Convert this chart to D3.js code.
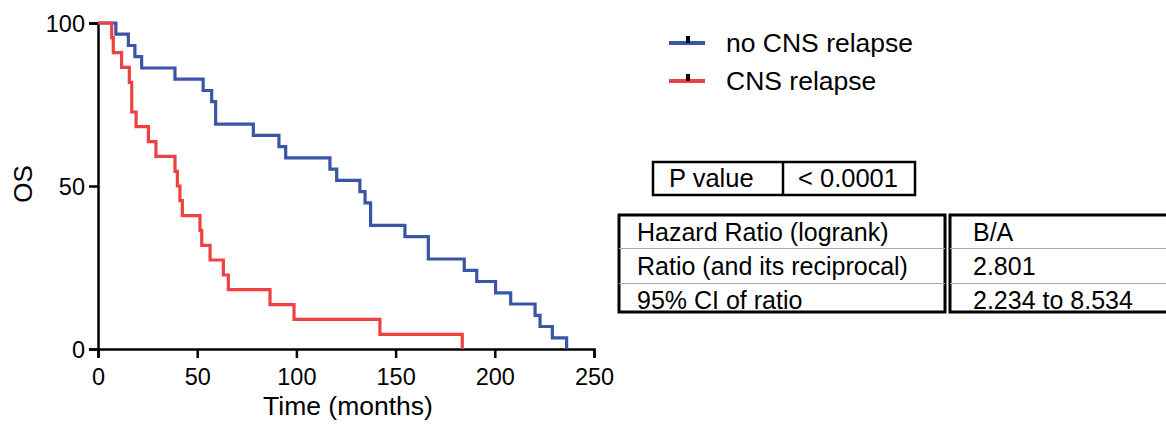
<!DOCTYPE html>
<html>
<head>
<meta charset="utf-8">
<script src="https://cdn.jsdelivr.net/npm/d3@7"></script>
<style>
  body { margin: 0; background: #fff; }
  svg { display: block; font-family: "Liberation Sans", Arial, sans-serif; }
</style>
</head>
<body>
<div id="chart"></div>
<script>
// survival curves (time in months, OS in %)
var noRelapseTimes = [0, 9, 15.3, 18.6, 22, 38.8, 53, 57.3, 59.3, 78.3, 91.2, 94.6, 116.9, 120.3, 132, 134.6, 137.4, 154.7, 166.5, 184.6, 190.9, 200.4, 208, 220.3, 222.8, 229, 236.2];
var noRelapseOS    = [100, 96.6, 93.1, 89.7, 86.2, 82.8, 79.3, 75.9, 69.0, 65.5, 62.1, 58.6, 55.2, 51.7, 48.3, 44.8, 37.9, 34.5, 27.6, 24.1, 20.7, 17.2, 13.8, 10.3, 6.9, 3.4, 0];

var relapseTimes = [0, 6.9, 7.7, 11.9, 15.8, 17, 19.2, 25.4, 29.2, 38.8, 40, 41.3, 42.5, 51.4, 52.3, 56.5, 63.2, 65.7, 86.7, 98.8, 142.1, 183.6];
var relapseOS    = [100, 95.5, 90.9, 86.4, 81.8, 72.7, 68.2, 63.6, 59.1, 54.5, 50, 45.5, 40.9, 36.4, 31.8, 27.3, 22.7, 18.2, 13.6, 9.1, 4.5, 0];

var seriesNames = ["no CNS relapse", "CNS relapse"];
var seriesColors = ["#3a55a5", "#ee4242"];

var xTicks = [0, 50, 100, 150, 200, 250];
var yTicks = [0, 50, 100];

var pRow = ["P value", "< 0.0001"];
var hrLabels = ["Hazard Ratio (logrank)", "Ratio (and its reciprocal)", "95% CI of ratio"];
var hrValues = ["B/A", "2.801", "2.234 to 8.534"];

var width = 1166, height = 425;

var svg = d3.select("#chart").append("svg")
  .attr("width", width)
  .attr("height", height);

var x = d3.scaleLinear().domain([0, 250]).range([98, 594]);
var y = d3.scaleLinear().domain([0, 100]).range([349, 23]);

// axes
var xAxis = svg.append("g")
  .attr("transform", "translate(0," + y(0) + ")")
  .call(d3.axisBottom(x).tickValues(xTicks).tickSize(9).tickPadding(6));
var yAxis = svg.append("g")
  .attr("transform", "translate(" + x(0) + ",0)")
  .call(d3.axisLeft(y).tickValues(yTicks).tickSize(9).tickPadding(4));

[xAxis, yAxis].forEach(function(g) {
  g.select(".domain").attr("stroke", "#000").attr("stroke-width", 2.5);
  g.selectAll(".tick line").attr("stroke", "#000").attr("stroke-width", 2.5);
  g.selectAll(".tick text")
    .attr("fill", "#000")
    .style("font-size", "23.5px")
    .style("font-family", "Liberation Sans, Arial, sans-serif");
});
xAxis.selectAll(".tick text").attr("dy", "0.88em");
yAxis.selectAll(".tick text").attr("dy", "0.36em");

// axis titles
svg.append("text")
  .attr("x", 348).attr("y", 415)
  .attr("text-anchor", "middle")
  .style("font-size", "26.5px")
  .text("Time (months)");

svg.append("text")
  .attr("transform", "translate(32,184) rotate(-90)")
  .attr("text-anchor", "middle")
  .style("font-size", "26px")
  .text("OS");

// curves
var line = d3.line()
  .x(function(d) { return x(d[0]); })
  .y(function(d) { return y(d[1]); })
  .curve(d3.curveStepAfter);

var curves = [
  d3.zip(noRelapseTimes, noRelapseOS),
  d3.zip(relapseTimes, relapseOS)
];

// draw blue first, red on top
curves.forEach(function(pts, i) {
  svg.append("path")
    .datum(pts)
    .attr("d", line)
    .attr("fill", "none")
    .attr("stroke", seriesColors[i])
    .attr("stroke-width", 3.2);
});

// legend
var legend = svg.append("g").attr("transform", "translate(669,43)");
seriesNames.forEach(function(name, i) {
  var g = legend.append("g").attr("transform", "translate(0," + (i * 38) + ")");
  g.append("line")
    .attr("x1", 0).attr("x2", 36)
    .attr("stroke", seriesColors[i])
    .attr("stroke-width", 4);
  g.append("rect")
    .attr("x", 17).attr("y", -7)
    .attr("width", 4).attr("height", 7)
    .attr("fill", "#000");
  g.append("text")
    .attr("x", 57).attr("y", 9)
    .style("font-size", "26.5px")
    .text(name);
});

// P value box
var pBox = svg.append("g");
pBox.append("rect")
  .attr("x", 653).attr("y", 162)
  .attr("width", 262).attr("height", 33)
  .attr("fill", "none").attr("stroke", "#000").attr("stroke-width", 2.5);
pBox.append("line")
  .attr("x1", 783).attr("x2", 783).attr("y1", 162).attr("y2", 195)
  .attr("stroke", "#000").attr("stroke-width", 2.5);
pBox.selectAll("text").data(pRow).enter().append("text")
  .attr("x", function(d, i) { return i ? 798 : 669; })
  .attr("y", 187)
  .style("font-size", "25.5px")
  .text(function(d) { return d; });

// hazard ratio table: two boxes
function drawBox(x0, w, rows, textX) {
  var g = svg.append("g");
  g.append("rect")
    .attr("x", x0).attr("y", 215)
    .attr("width", w).attr("height", 97)
    .attr("fill", "none").attr("stroke", "#000").attr("stroke-width", 3);
  [248.5, 283.5].forEach(function(yy) {
    g.append("line")
      .attr("x1", x0).attr("x2", x0 + w)
      .attr("y1", yy).attr("y2", yy)
      .attr("stroke", "#aaa").attr("stroke-width", 1);
  });
  g.selectAll("text").data(rows).enter().append("text")
    .attr("x", textX)
    .attr("y", function(d, i) { return 241 + i * 34; })
    .style("font-size", "25px")
    .text(function(d) { return d; });
}
drawBox(619, 326, hrLabels, 637);
drawBox(950, 220, hrValues, 973);
</script>
</body>
</html>
